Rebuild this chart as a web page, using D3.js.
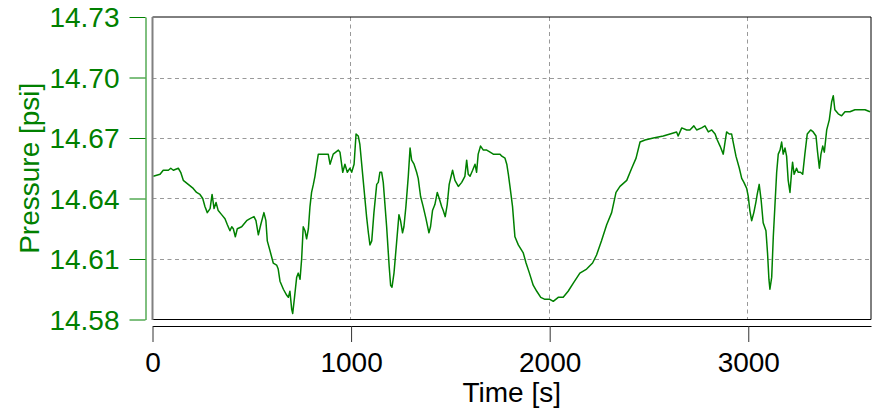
<!DOCTYPE html>
<html>
<head>
<meta charset="utf-8">
<script src="https://cdn.jsdelivr.net/npm/d3@7"></script>
<style>
  html, body { margin: 0; padding: 0; background: #fff; }
  svg { display: block; font-family: "Liberation Sans", Arial, sans-serif; }
</style>
</head>
<body>
<svg id="chart" width="872" height="415"></svg>
<script>
const xTicks = [0, 1000, 2000, 3000];
const yTicks = [14.58, 14.61, 14.64, 14.67, 14.70, 14.73];
const xLabel = "Time [s]";
const yLabel = "Pressure [psi]";

const times = [4,38,54,80,92,105,130,142,155,180,205,222,239,253,264,276,290,300,310,320,331,348,365,377,390,399,407,417,427,449,474,491,511,521,533,545,561,571,578,592,608,625,633,642,659,676,684,692,701,706,714,726,734,743,751,759,768,776,785,793,801,810,818,827,835,852,869,885,894,910,936,944,958,969,981,994,1003,1015,1025,1036,1044,1061,1078,1087,1095,1104,1115,1129,1137,1145,1154,1162,1179,1192,1199,1206,1216,1229,1241,1249,1259,1266,1276,1288,1297,1305,1317,1330,1338,1350,1363,1377,1392,1400,1410,1422,1434,1444,1456,1464,1474,1484,1494,1511,1523,1540,1557,1573,1582,1590,1599,1612,1624,1632,1640,1652,1666,1683,1700,1716,1733,1750,1759,1775,1784,1792,1800,1813,1825,1842,1867,1881,1898,1917,1935,1955,1976,2001,2018,2043,2068,2093,2119,2152,2186,2216,2236,2261,2287,2312,2334,2354,2388,2413,2435,2455,2480,2522,2572,2606,2639,2647,2665,2690,2706,2726,2740,2765,2782,2799,2816,2833,2844,2858,2874,2883,2891,2904,2916,2924,2938,2955,2967,2978,2992,3000,3008,3017,3028,3038,3045,3055,3065,3075,3089,3097,3104,3109,3118,3126,3134,3143,3151,3160,3168,3176,3185,3193,3201,3210,3218,3223,3231,3243,3251,3263,3274,3285,3297,3314,3327,3341,3349,3358,3366,3375,3383,3395,3408,3420,3428,3436,3453,3470,3487,3512,3537,3562,3588,3613];

const pressures = [14.651,14.652,14.654,14.654,14.655,14.654,14.655,14.653,14.649,14.647,14.645,14.643,14.642,14.640,14.636,14.633,14.635,14.642,14.635,14.638,14.634,14.632,14.630,14.627,14.624,14.626,14.625,14.621,14.625,14.626,14.629,14.630,14.631,14.629,14.622,14.627,14.633,14.629,14.619,14.614,14.608,14.607,14.605,14.599,14.595,14.592,14.591,14.594,14.585,14.583,14.590,14.601,14.603,14.600,14.610,14.626,14.624,14.620,14.625,14.636,14.643,14.647,14.651,14.657,14.662,14.662,14.662,14.662,14.657,14.662,14.664,14.663,14.653,14.657,14.653,14.655,14.653,14.657,14.672,14.671,14.667,14.649,14.631,14.623,14.617,14.619,14.633,14.647,14.648,14.653,14.653,14.648,14.626,14.606,14.597,14.596,14.603,14.618,14.632,14.629,14.623,14.626,14.636,14.651,14.665,14.659,14.657,14.653,14.650,14.641,14.636,14.630,14.623,14.626,14.634,14.637,14.643,14.640,14.636,14.634,14.631,14.637,14.647,14.654,14.649,14.646,14.648,14.651,14.659,14.652,14.651,14.654,14.657,14.653,14.662,14.666,14.664,14.664,14.663,14.662,14.662,14.662,14.661,14.660,14.657,14.652,14.646,14.636,14.621,14.617,14.613,14.608,14.603,14.597,14.594,14.591,14.590,14.590,14.589,14.591,14.591,14.594,14.598,14.603,14.605,14.608,14.612,14.619,14.627,14.633,14.643,14.646,14.649,14.655,14.660,14.668,14.669,14.670,14.671,14.672,14.673,14.671,14.675,14.674,14.674,14.676,14.674,14.675,14.676,14.673,14.674,14.672,14.669,14.666,14.662,14.668,14.673,14.672,14.672,14.668,14.661,14.655,14.650,14.648,14.645,14.641,14.634,14.629,14.633,14.638,14.642,14.647,14.639,14.628,14.624,14.613,14.600,14.595,14.601,14.621,14.636,14.653,14.662,14.664,14.668,14.662,14.665,14.661,14.649,14.643,14.653,14.658,14.652,14.655,14.653,14.653,14.652,14.662,14.672,14.674,14.673,14.671,14.663,14.655,14.662,14.666,14.663,14.674,14.679,14.688,14.691,14.684,14.682,14.681,14.683,14.683,14.684,14.684,14.684,14.683];

const green = "#008000";
const plot = { left: 152.5, right: 871, top: 17, bottom: 319.5 };

const svg = d3.select("#chart");
const x = d3.scaleLinear().domain([0, 3618]).range([plot.left, plot.right]);
const y = d3.scaleLinear().domain([14.58, 14.73]).range([plot.bottom, plot.top]);

// grid
const grid = svg.append("g").attr("stroke", "#999").attr("stroke-width", 1).attr("stroke-dasharray", "4,3.5");
grid.selectAll("line.h").data(yTicks.filter(d => d > 14.58 && d < 14.73)).enter().append("line")
  .attr("x1", plot.left).attr("x2", plot.right)
  .attr("y1", d => Math.round(y(d)) + 0.5).attr("y2", d => Math.round(y(d)) + 0.5);
grid.selectAll("line.v").data(xTicks.filter(d => d > 0)).enter().append("line")
  .attr("y1", plot.top).attr("y2", plot.bottom)
  .attr("x1", d => Math.round(x(d)) - 0.5).attr("x2", d => Math.round(x(d)) - 0.5);

// data line
svg.append("clipPath").attr("id", "clip").append("rect")
  .attr("x", plot.left).attr("y", plot.top).attr("width", plot.right - plot.left).attr("height", plot.bottom - plot.top);
const pts = times.map((t, i) => [t, pressures[i]]);
svg.append("path").datum(pts)
  .attr("clip-path", "url(#clip)")
  .attr("fill", "none").attr("stroke", green).attr("stroke-width", 1.5).attr("stroke-linejoin", "round")
  .attr("d", d3.line().x(d => x(d[0])).y(d => y(d[1])));

// frame
svg.append("line").attr("x1", plot.left).attr("x2", plot.right).attr("y1", plot.top).attr("y2", plot.top).attr("stroke", "#000");
svg.append("line").attr("x1", plot.right).attr("x2", plot.right).attr("y1", plot.top).attr("y2", plot.bottom).attr("stroke", "#000");
svg.append("line").attr("x1", plot.left).attr("x2", plot.right).attr("y1", plot.bottom).attr("y2", plot.bottom).attr("stroke", "#000").attr("stroke-width", 1.2);
svg.append("line").attr("x1", plot.left).attr("x2", plot.left).attr("y1", plot.top).attr("y2", plot.bottom + 0.5).attr("stroke", "#808080").attr("stroke-width", 2);

// y axis (green, offset left)
const yAxis = d3.axisLeft(y).tickValues(yTicks).tickFormat(d3.format(".2f")).tickSize(16).tickPadding(10).tickSizeOuter(0);
const gy = svg.append("g").attr("transform", "translate(145.5,0)").call(yAxis);
gy.select(".domain").attr("stroke", green);
gy.selectAll(".tick line").attr("stroke", green);
gy.selectAll(".tick text").attr("fill", green).attr("font-size", 28).attr("font-family", "Liberation Sans, Arial, sans-serif").attr("dy", "0.35em");

// x axis (offset below)
const xAxis = d3.axisBottom(x).tickValues(xTicks).tickFormat(d3.format("d")).tickSize(16).tickPadding(10).tickSizeOuter(0);
const gx = svg.append("g").attr("transform", "translate(0,326)").call(xAxis);
gx.select(".domain").attr("stroke", "#000");
gx.selectAll(".tick line").attr("stroke", "#333");
gx.selectAll(".tick text").attr("fill", "#000").attr("font-size", 28).attr("font-family", "Liberation Sans, Arial, sans-serif").attr("dy", "0.71em");

// axis titles
svg.append("text").attr("x", (plot.left + plot.right) / 2).attr("y", 402)
  .attr("text-anchor", "middle").attr("font-size", 28).attr("fill", "#000").text(xLabel);
svg.append("text").attr("transform", `translate(38.5,${(plot.top + plot.bottom) / 2}) rotate(-90)`)
  .attr("text-anchor", "middle").attr("font-size", 28).attr("fill", green).text(yLabel);
</script>
</body>
</html>
